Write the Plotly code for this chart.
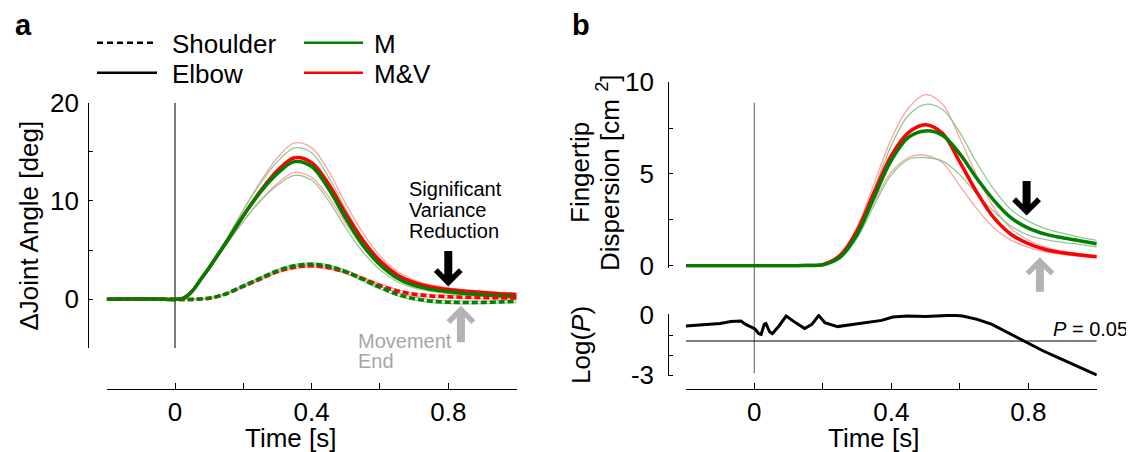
import math
import plotly.graph_objects as go

# The page places the figure 8 px from the window's top-left corner.
OFF = 8
W, H = 1134 - OFF, 452 - OFF
FONT = "Liberation Sans, Arial, sans-serif"


def px(x):
    return (x - OFF) / W


def py(y):
    return 1 - (y - OFF) / H


# ---------------- data: panel a (joint angles, deg) ----------------
t_a = [-0.2, -0.15, -0.1, -0.05, 0.0, 0.025, 0.05, 0.075, 0.1, 0.125, 0.15, 0.2,
       0.25, 0.3, 0.35, 0.4, 0.45, 0.5, 0.55, 0.6, 0.65, 0.7, 0.75, 0.8, 0.85,
       0.9, 0.95, 1.0]
elbow_m = [0.0, 0.02, 0.04, 0.0, -0.03, 0.1, 0.8, 2.0, 3.2, 4.5, 5.8, 8.5,
           10.9, 12.8, 14.0, 13.5, 11.2, 8.2, 5.5, 3.5, 2.15, 1.4, 1.0, 0.75,
           0.58, 0.45, 0.34, 0.25]
elbow_mv = [0.0, 0.0, 0.03, 0.02, -0.02, 0.1, 0.8, 2.0, 3.2, 4.5, 5.8, 8.5,
            11.0, 13.1, 14.4, 13.9, 11.7, 8.7, 6.0, 3.9, 2.5, 1.7, 1.25, 0.98,
            0.8, 0.67, 0.56, 0.48]
elbow_m_sem = [0, 0, 0, 0, 0, 0, 0, 0.05, 0.1, 0.15, 0.25, 0.55, 0.9, 1.2,
               1.4, 1.4, 1.2, 0.95, 0.7, 0.5, 0.35, 0.25, 0.2, 0.17, 0.15,
               0.14, 0.13, 0.12]
elbow_mv_sem = [0, 0, 0, 0, 0, 0, 0, 0.05, 0.1, 0.15, 0.25, 0.6, 0.95, 1.3,
                1.5, 1.5, 1.3, 1.0, 0.75, 0.5, 0.35, 0.25, 0.2, 0.17, 0.15,
                0.14, 0.13, 0.12]
shoulder_m = [0.0, 0.01, 0.02, 0.0, -0.02, -0.03, -0.02, 0.02, 0.1, 0.28,
              0.55, 1.35, 2.15, 2.9, 3.4, 3.55, 3.35, 2.8, 2.0, 1.2, 0.5,
              0.05, -0.2, -0.3, -0.34, -0.33, -0.28, -0.22]
shoulder_mv = [0.0, 0.0, 0.02, 0.01, -0.02, -0.03, -0.02, 0.02, 0.1, 0.28,
               0.55, 1.3, 2.05, 2.8, 3.25, 3.4, 3.2, 2.75, 2.1, 1.4, 0.85,
               0.5, 0.33, 0.25, 0.2, 0.17, 0.14, 0.12]
shoulder_sem = [0, 0, 0, 0, 0, 0, 0, 0, 0.02, 0.03, 0.05, 0.08, 0.1, 0.12,
                0.14, 0.15, 0.15, 0.15, 0.15, 0.15, 0.15, 0.15, 0.15, 0.15,
                0.14, 0.13, 0.12, 0.12]

# ---------------- data: panel b (fingertip dispersion, cm^2) ----------------
t_b = [-0.2, -0.1, 0.0, 0.1, 0.15, 0.2, 0.25, 0.3, 0.35, 0.4, 0.45, 0.5, 0.55,
       0.6, 0.65, 0.7, 0.75, 0.8, 0.85, 0.9, 0.95, 1.0]
disp_mv = [0, 0, 0, 0, 0.01, 0.06, 0.55, 1.9, 4.0, 6.0, 7.25, 7.68, 7.2, 5.65,
           4.0, 2.6, 1.7, 1.2, 0.88, 0.7, 0.58, 0.49]
disp_m = [0, 0, 0, 0, 0.01, 0.05, 0.45, 1.7, 3.75, 5.75, 7.0, 7.35, 7.1, 6.1,
          4.75, 3.55, 2.6, 2.05, 1.72, 1.52, 1.36, 1.2]
disp_mv_sem = [0, 0, 0, 0, 0, 0.01, 0.05, 0.2, 0.5, 0.9, 1.35, 1.65, 1.6, 1.3,
               0.9, 0.55, 0.32, 0.2, 0.13, 0.09, 0.07, 0.05]
disp_m_sem = [0, 0, 0, 0, 0, 0.01, 0.05, 0.2, 0.45, 0.8, 1.2, 1.45, 1.4, 1.15,
              0.85, 0.6, 0.45, 0.38, 0.3, 0.25, 0.2, 0.18]

# ---------------- data: panel b lower (log P) ----------------
t_p = [-0.2, -0.143, -0.12, -0.1, -0.068, -0.039, -0.025, -0.009, 0.002, 0.013,
       0.02, 0.029, 0.034, 0.045, 0.053, 0.072, 0.093, 0.12, 0.147, 0.168,
       0.188, 0.206, 0.243, 0.286, 0.34, 0.372, 0.404, 0.447, 0.5, 0.544,
       0.581, 0.608, 0.651, 0.694, 0.737, 0.78, 0.801, 0.844, 0.887, 0.93,
       0.973, 1.0]
log_p = [-0.55, -0.48, -0.47, -0.43, -0.33, -0.3, -0.47, -0.6, -0.7, -0.93,
         -0.97, -0.47, -0.43, -0.85, -0.93, -0.55, -0.05, -0.38, -0.68, -0.47,
         -0.03, -0.38, -0.58, -0.47, -0.35, -0.27, -0.1, -0.05, -0.07, -0.05,
         -0.01, -0.05, -0.22, -0.47, -0.85, -1.22, -1.38, -1.8, -2.13, -2.47,
         -2.8, -3.0]
p_thresh = 0.05

x_ticks = [-0.2, 0, 0.2, 0.4, 0.6, 0.8, 1.0]
x_labels = ["", "0", "", "0.4", "", "0.8", ""]

GREEN = "#008000"
RED = "#ff0000"
LGREEN = "#92c992"
LRED = "#ffa3a3"
GRAY = "#b3b3b3"

fig = go.Figure()


def line(x, y, color, width, xa, ya, dash=None, shape="spline"):
    fig.add_trace(go.Scatter(
        x=x, y=y, mode="lines",
        line=dict(color=color, width=width, dash=dash, shape=shape),
        xaxis=xa, yaxis=ya, showlegend=False, hoverinfo="skip"))


def band(x, mean, sem, color, xa, ya):
    line(x, [m + s for m, s in zip(mean, sem)], color, 1.3, xa, ya)
    line(x, [m - s for m, s in zip(mean, sem)], color, 1.3, xa, ya)


# panel a
band(t_a, elbow_mv, elbow_mv_sem, LRED, "x", "y")
band(t_a, shoulder_mv, shoulder_sem, LRED, "x", "y")
band(t_a, elbow_m, elbow_m_sem, LGREEN, "x", "y")
band(t_a, shoulder_m, shoulder_sem, LGREEN, "x", "y")
line(t_a, elbow_mv, RED, 3.5, "x", "y")
line(t_a, elbow_m, GREEN, 3.5, "x", "y")
line(t_a, shoulder_mv, RED, 3.5, "x", "y", dash="6px,3px")
line(t_a, shoulder_m, GREEN, 3.5, "x", "y", dash="6px,3px")

# panel b top
band(t_b, disp_mv, disp_mv_sem, LRED, "x2", "y2")
band(t_b, disp_m, disp_m_sem, LGREEN, "x2", "y2")
line(t_b, disp_mv, RED, 3.5, "x2", "y2")
line(t_b, disp_m, GREEN, 3.5, "x2", "y2")

# panel b bottom
thr = math.log10(p_thresh)
line([x_ticks[0], x_ticks[-1]], [thr, thr], "black", 1.0, "x2", "y3", shape="linear")
line(t_p, log_p, "black", 3, "x2", "y3", shape="linear")

axis_common = dict(showline=True, linecolor="black", linewidth=1.2,
                   ticks="inside", tickcolor="black", tickwidth=1.2,
                   showgrid=False, zeroline=False, automargin=False,
                   tickfont=dict(family=FONT, size=26, color="black"))

XPOS = py(389)
fig.update_layout(
    width=W, height=H, autosize=False,
    margin=dict(l=0, r=0, t=0, b=0, pad=0, autoexpand=False),
    paper_bgcolor="white", plot_bgcolor="white",
    showlegend=False,
    xaxis=dict(domain=[px(106.7), px(516.6)], range=[-0.2, 1.0],
               anchor="free", position=XPOS, tickvals=x_ticks,
               ticktext=x_labels, ticklen=6, **axis_common),
    yaxis=dict(domain=[py(348.3), py(102.7)], range=[-5, 20],
               anchor="free", position=px(88.3),
               tickvals=[-5, 0, 5, 10, 15, 20],
               ticktext=["", "0", "", "10", "", "20"], ticklen=4,
               ticklabelstandoff=4, **axis_common),
    xaxis2=dict(domain=[px(685.8), px(1096.8)], range=[-0.2, 1.0],
                anchor="free", position=XPOS, tickvals=x_ticks,
                ticktext=x_labels, ticklen=6, **axis_common),
    yaxis2=dict(domain=[py(267.5), py(82.3)], range=[-0.1, 10],
                anchor="free", position=px(668.3),
                tickvals=[0, 2.5, 5, 7.5, 10],
                ticktext=["0", "", "5", "", "10"], ticklen=4,
                ticklabelstandoff=9, **axis_common),
    yaxis3=dict(domain=[py(376), py(314)], range=[-3.05, 0.05],
                anchor="free", position=px(668.3),
                tickvals=[-3, -2, -1, 0],
                ticktext=["-3", "", "", "0"], ticklen=4,
                ticklabelstandoff=9, **axis_common),
)

# reference lines at movement onset
fig.add_shape(type="line", xref="x", yref="y", x0=0, x1=0, y0=-5, y1=20,
              line=dict(color="#333333", width=1.3), layer="below")
fig.add_shape(type="line", xref="x2", yref="paper", x0=0, x1=0,
              y0=py(373.3), y1=py(102.7),
              line=dict(color="#808080", width=1.3), layer="below")

# legend samples
for (x0, x1, y, color, dash) in [(97, 154, 42.7, "black", "6px,4px"),
                                  (97, 157, 72.7, "black", None),
                                  (304, 363, 42.7, GREEN, None),
                                  (304, 363, 72.7, RED, None)]:
    fig.add_shape(type="line", xref="paper", yref="paper",
                  x0=px(x0), x1=px(x1), y0=py(y), y1=py(y),
                  line=dict(color=color, width=2.5, dash=dash))


def text(s, x, y, size=26, color="black", xanchor="center", angle=0):
    fig.add_annotation(text=s, x=x, y=y, xref="paper", yref="paper",
                       xanchor=xanchor, yanchor="middle", showarrow=False,
                       textangle=angle,
                       font=dict(family=FONT, size=size, color=color))


text("Shoulder", px(170), py(44), xanchor="left")
text("Elbow", px(170), py(74), xanchor="left")
text("M", px(372), py(44), xanchor="left")
text("M&V", px(372), py(74), xanchor="left")
text("<b>a</b>", px(13), py(25), size=29, xanchor="left")
text("<b>b</b>", px(570), py(25), size=29, xanchor="left")
text("ΔJoint Angle [deg]", px(28), py(225.5), angle=-90)
text("Time [s]", px(291), py(438))
text("Time [s]", px(873), py(438))
text("Fingertip", px(580), py(173), angle=-90)
text("Dispersion [cm <sup>2</sup>]", px(608), py(173), angle=-90)
text("Log(<i>P</i>)", px(581), py(345), angle=-90)
text("<i>P</i> = 0.05", px(1130), py(329), size=20, xanchor="right")
text("Significant", px(407), py(188.5), size=20, xanchor="left")
text("Variance", px(407), py(209.5), size=20, xanchor="left")
text("Reduction", px(407), py(230.5), size=20, xanchor="left")
text("Movement", px(356), py(341), size=20, color="#a6a6a6", xanchor="left")
text("End", px(356), py(361), size=20, color="#a6a6a6", xanchor="left")


def arrow(x, y, ay, color, xa, ya):
    fig.add_annotation(text="", x=x, y=y, xref=xa, yref=ya, ax=0, ay=ay,
                       showarrow=True, arrowhead=4, arrowsize=0.6,
                       arrowwidth=8, arrowcolor=color, standoff=0)


arrow(0.8, 1.29, -37, "black", "x", "y")
arrow(0.837, -0.68, 38, GRAY, "x", "y")
arrow(0.795, 2.73, -36, "black", "x2", "y2")
arrow(0.834, 0.46, 36, GRAY, "x2", "y2")

fig.write_html("out.html")
